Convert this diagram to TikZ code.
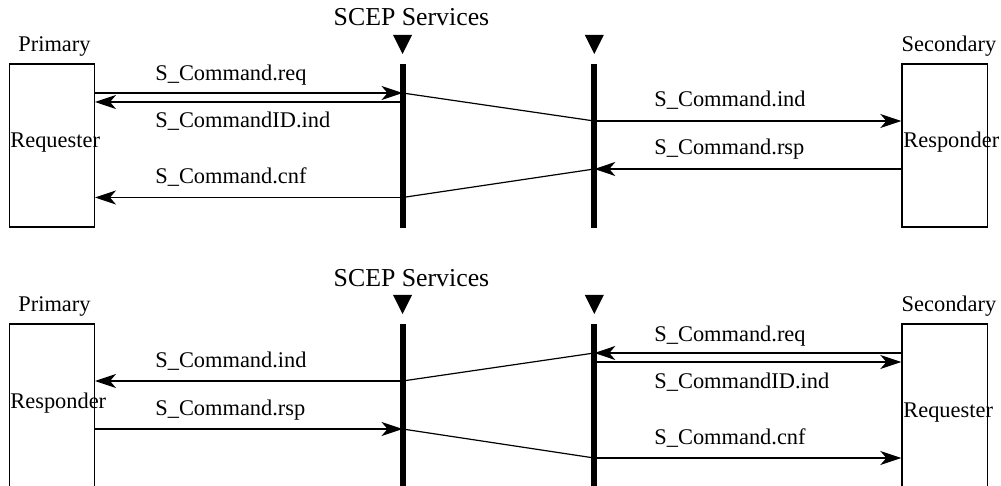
\documentclass[tikz,border=0pt]{standalone}
\usepackage{fontspec}
\setmainfont{Liberation Serif}
\usetikzlibrary{arrows.meta}

\tikzset{
    box/.style={draw, line width=0.6pt, minimum width=42.6pt, minimum height=81.5pt, inner sep=0pt},
    lbl/.style={anchor=base west, inner sep=0pt, font=\fontsize{11.2}{13}\selectfont},
    role/.style={anchor=base, inner sep=0pt, font=\fontsize{11.2}{13}\selectfont},
    title/.style={anchor=base, inner sep=0pt, font=\fontsize{12.9}{15}\selectfont},
    msg/.style={-{Stealth[length=10.5pt,width=7pt,inset=3pt]}, line width=0.6pt},
    hop/.style={line width=0.6pt},
    bar/.style={line width=3pt},
}

\begin{document}
\begin{tikzpicture}[x=0.5pt,y=-0.5pt]
            \useasboundingbox (0,0) rectangle (1001,486);
            \clip (0,0) rectangle (1001,486);

            % upper exchange
            \node[title] (svc1) at (411.5,26) {SCEP Services};
            \node[role] (pl1) at (54.5,52) {Primary};
            \node[role] (sl1) at (949,52) {Secondary};
            \node[box] (prim1) at (51.8,145.5) {};
            \node[box] (sec1) at (944.5,145.5) {};
            \node[lbl] (pn1) at (10,148) {Requester};
            \node[lbl] (sn1) at (903,148) {Responder};

            \coordinate (req1) at (402.5,93);
            \coordinate (idi1) at (402.5,102);
            \coordinate (ind1) at (594.3,121);
            \coordinate (rsp1) at (594.3,169);
            \coordinate (cnf1) at (402.5,197.5);

            \draw[msg] (prim1.east |- req1) -- (req1);
            \draw[msg] (idi1) -- (prim1.east |- idi1);
            \draw[hop] (req1) -- (ind1);
            \draw[msg] (ind1) -- (sec1.west |- ind1);
            \draw[msg] (sec1.west |- rsp1) -- (rsp1);
            \draw[hop] (rsp1) -- (cnf1);
            \draw[msg] (cnf1) -- (prim1.east |- cnf1);

            \node[lbl] (m1) at (155,81) {S\_Command.req};
            \node[lbl] (m2) at (155,128) {S\_CommandID.ind};
            \node[lbl] (m3) at (155,184) {S\_Command.cnf};
            \node[lbl] (m4) at (654,107) {S\_Command.ind};
            \node[lbl] (m5) at (654,155) {S\_Command.rsp};

            % lower exchange
            \node[title] (svc2) at (411.5,286) {SCEP Services};
            \node[role] (pl2) at (54.5,312) {Primary};
            \node[role] (sl2) at (949,312) {Secondary};
            \node[box] (prim2) at (51.8,405.5) {};
            \node[box] (sec2) at (944.5,405.5) {};
            \node[lbl] (pn2) at (10,408) {Responder};
            \node[lbl] (sn2) at (903,417) {Requester};

            \coordinate (ind2) at (402.5,381);
            \coordinate (rsp2) at (402.5,429);
            \coordinate (req2) at (594.3,353);
            \coordinate (idi2) at (594.3,362);
            \coordinate (cnf2) at (594.3,458);

            \draw[msg] (ind2) -- (prim2.east |- ind2);
            \draw[hop] (req2) -- (ind2);
            \draw[msg] (sec2.west |- req2) -- (req2);
            \draw[msg] (idi2) -- (sec2.west |- idi2);
            \draw[msg] (prim2.east |- rsp2) -- (rsp2);
            \draw[hop] (rsp2) -- (cnf2);
            \draw[msg] (cnf2) -- (sec2.west |- cnf2);

            \node[lbl] (m6) at (155,367) {S\_Command.ind};
            \node[lbl] (m7) at (155,415) {S\_Command.rsp};
            \node[lbl] (m8) at (654,341) {S\_Command.req};
            \node[lbl] (m9) at (654,388) {S\_CommandID.ind};
            \node[lbl] (m10) at (654,444) {S\_Command.cnf};

            % service access bars and markers
            \foreach \dy in {0,260} {
                \foreach \bx in {402.5,594.3} {
                    \draw[bar] (\bx,{64+\dy}) -- (\bx,{228+\dy});
                    \fill ({\bx-9.5},{35+\dy}) -- ({\bx+9.5},{35+\dy}) -- (\bx,{54+\dy}) -- cycle;
                }
            }
        \end{tikzpicture}
\end{document}
